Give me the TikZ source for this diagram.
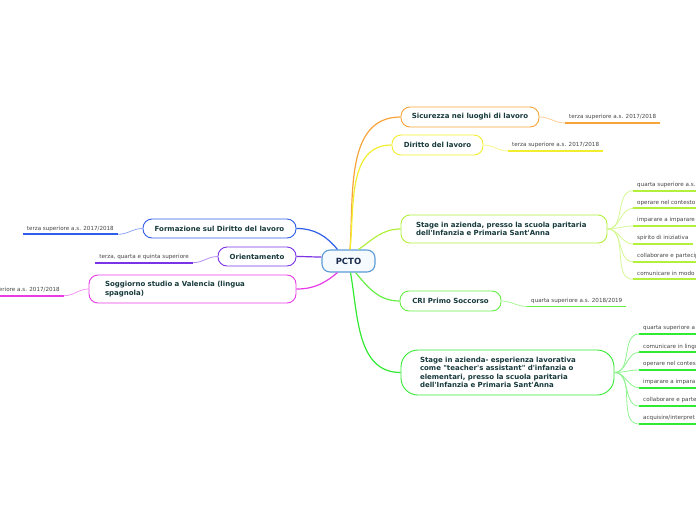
\documentclass[tikz,border=0pt]{standalone}
\usepackage{fontspec}
\newfontfamily\mapfont{DejaVu Sans}
\usetikzlibrary{positioning}

\definecolor{rootC}{HTML}{5B9BD5}
\definecolor{rootF}{HTML}{F5FAFE}
\definecolor{rootT}{HTML}{1C2A4E}
\definecolor{topicT}{HTML}{17393B}
\definecolor{leafT}{HTML}{444444}
\definecolor{orangeC}{HTML}{F7A43A}
\definecolor{yellowC}{HTML}{F2EE2E}
\definecolor{limeC}{HTML}{B2F03C}
\definecolor{criC}{HTML}{66EE44}
\definecolor{greenC}{HTML}{33EA33}
\definecolor{blueC}{HTML}{2F5FE8}
\definecolor{purpleC}{HTML}{7B33E6}
\definecolor{magentaC}{HTML}{E83CE8}

\tikzset{
  topic/.style={draw=#1, line width=0.9pt, fill=white, rounded corners=9pt,
    inner sep=0pt, text=topicT, font=\mapfont\bfseries\fontsize{7}{8.5}\selectfont},
  leaf/.style={inner xsep=4pt, inner ysep=3pt, text height=4pt, text depth=1pt,
    text=leafT, font=\mapfont\fontsize{5.6}{6.5}\selectfont},
  branch/.style={draw=#1, line width=1.2pt},
  twig/.style={draw=#1!55, line width=0.8pt},
  uline/.style={draw=#1, line width=1.8pt},
}

\begin{document}
\begin{tikzpicture}[x=1pt,y=1pt]
  \useasboundingbox (0,0) rectangle (696,-520);
  \clip (0,0) rectangle (696,-520);
  \coordinate (edgeR) at (700,0);

  % --- nodo centrale
  \node[draw=rootC, line width=1.1pt, fill=rootF, rounded corners=8pt,
        minimum width=53, minimum height=22, inner sep=0pt, text=rootT,
        font=\mapfont\bfseries\fontsize{8.5}{10}\selectfont] (pcto) at (348.5,-261) {PCTO};

  % --- temi a destra
  \node[topic=orangeC, minimum width=138, minimum height=20] (sic) at (470,-117)
       {Sicurezza nei luoghi di lavoro};
  \node[topic=yellowC, minimum width=91, minimum height=20] (dir) at (437.5,-145)
       {Diritto del lavoro};
  \node[topic=limeC, minimum width=206, minimum height=28, text width=176,
        inner xsep=15pt, align=left] (st1) at (504,-229)
       {Stage in azienda, presso la scuola paritaria\\dell'Infanzia e Primaria Sant'Anna};
  \node[topic=criC, minimum width=101, minimum height=20] (cri) at (450.5,-301)
       {CRI Primo Soccorso};
  \node[topic=greenC, rounded corners=17pt, minimum width=213, minimum height=45,
        text width=175, inner xsep=19pt, align=left] (st2) at (507.5,-372.5)
       {Stage in azienda- esperienza lavorativa\\come "teacher's assistant" d'infanzia o\\
        elementari, presso la scuola paritaria\\dell'Infanzia e Primaria Sant'Anna};

  % --- temi a sinistra
  \node[topic=blueC, minimum width=153, minimum height=19] (for) at (219.5,-228.5)
       {Formazione sul Diritto del lavoro};
  \node[topic=purpleC, minimum width=78, minimum height=19] (ori) at (257,-256.5)
       {Orientamento};
  \node[topic=magentaC, minimum width=207, minimum height=28, text width=175,
        inner xsep=16pt, align=left] (sog) at (192.5,-289)
       {Soggiorno studio a Valencia (lingua\\spagnola)};

  % --- rami principali
  \draw[branch=orangeC]  ([xshift=1.5]pcto.north) to[out=86,in=180] (sic.west);
  \draw[branch=yellowC]  ([xshift=1.5]pcto.north) to[out=84,in=180] (dir.west);
  \draw[branch=limeC]    ([xshift=10]pcto.north)  to[out=35,in=180] (st1.west);
  \draw[branch=criC]     ([xshift=7]pcto.south)   to[out=-50,in=180] (cri.west);
  \draw[branch=greenC]   ([xshift=2]pcto.south)   to[out=-80,in=180] (st2.west);
  \draw[branch=blueC]    ([xshift=-11]pcto.north) to[out=130,in=0] (for.east);
  \draw[branch=purpleC]  ([yshift=4]pcto.west)    to[out=180,in=0] (ori.east);
  \draw[branch=magentaC] ([xshift=-11]pcto.south) to[out=-140,in=0] (sog.east);

  % --- foglie singole
  \node[leaf, anchor=south west] (sicA) at (565,-123) {terza superiore a.s. 2017/2018};
  \draw[twig=orangeC] (sic.east) to[out=0,in=180] (sicA.south west);
  \draw[uline=orangeC] (sicA.south west) -- (sicA.south east);

  \node[leaf, anchor=south west] (dirA) at (508,-151) {terza superiore a.s. 2017/2018};
  \draw[twig=yellowC] (dir.east) to[out=0,in=180] (dirA.south west);
  \draw[uline=yellowC] (dirA.south west) -- (dirA.south east);

  \node[leaf, anchor=south west] (criA) at (527,-306.5) {quarta superiore a.s. 2018/2019};
  \draw[twig=criC] (cri.east) to[out=0,in=180] (criA.south west);
  \draw[uline=criC] (criA.south west) -- (criA.south east);

  \node[leaf, anchor=south east] (forA) at (118,-234.3) {terza superiore a.s. 2017/2018};
  \draw[twig=blueC] (for.west) to[out=180,in=0] (forA.south east);
  \draw[uline=blueC] (forA.south west) -- (forA.south east);

  \node[leaf, anchor=south east] (oriA) at (193,-262.7) {terza, quarta e quinta superiore};
  \draw[twig=purpleC] (ori.west) to[out=180,in=0] (oriA.south east);
  \draw[uline=purpleC] (oriA.south west) -- (oriA.south east);

  \node[leaf, anchor=south east] (sogA) at (64,-295.7) {terza superiore a.s. 2017/2018};
  \draw[twig=magentaC] (sog.west) to[out=180,in=0] (sogA.south east);
  \draw[uline=magentaC] (sogA.south west) -- (sogA.south east);

  % --- competenze stage 1
  \foreach \name/\y/\txt in {a/190.7/{quarta superiore a.s.},
                             b/208.3/{operare nel contesto},
                             c/226/{imparare a imparare},
                             e/261.7/{collaborare e partecip},
                             f/279.3/{comunicare in modo}} {
    \node[leaf, anchor=south west] (st1\name) at (633,-\y) {\txt};
    \draw[twig=limeC] (st1.east) to[out=0,in=180] (st1\name.south west);
    \draw[uline=limeC] (st1\name.south west) -- (st1\name.south west -| edgeR);
  }
  \node[leaf, anchor=south west] (st1d) at (633,-244) {spirito di iniziativa};
  \draw[twig=limeC] (st1.east) to[out=0,in=180] (st1d.south west);
  \draw[uline=limeC] (st1d.south west) -- (st1d.south east);

  % --- competenze stage 2
  \foreach \name/\y/\txt in {a/334/{quarta superiore a},
                             b/352.3/{comunicare in lingu},
                             c/370/{operare nel contes},
                             d/387.7/{imparare a impara},
                             e/406/{collaborare e parte},
                             f/424/{acquisire/interpret}} {
    \node[leaf, anchor=south west] (st2\name) at (639,-\y) {\txt};
    \draw[twig=greenC] (st2.east) to[out=0,in=180] (st2\name.south west);
    \draw[uline=greenC] (st2\name.south west) -- (st2\name.south west -| edgeR);
  }
\end{tikzpicture}
\end{document}
